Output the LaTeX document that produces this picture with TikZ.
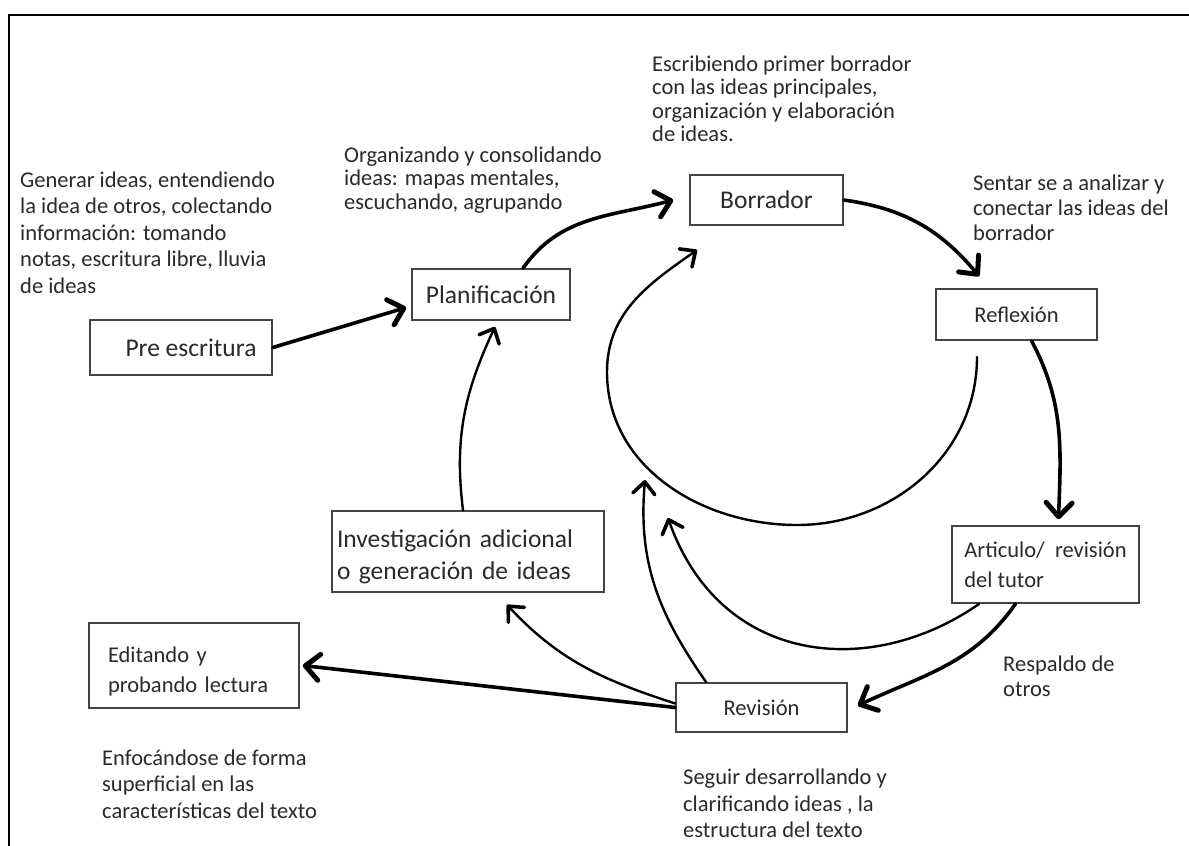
\documentclass[tikz,border=0pt]{standalone}
\usepackage{fontspec}
\setmainfont{Carlito}
\usetikzlibrary{arrows.meta,calc}
\definecolor{txt}{HTML}{2a2a2a}
\definecolor{boxline}{HTML}{444444}
\begin{document}
\begin{tikzpicture}[x=1pt,y=-1pt,
  box/.style={draw=boxline, line width=1.6pt, inner sep=0pt, text=txt},
  big/.style={font=\fontsize{25.5}{30}\selectfont},
  small/.style={font=\fontsize{22.5}{30}\selectfont},
  desc/.style={anchor=north west, inner sep=0pt, align=left, text=txt},
  flow/.style={line width=3.6pt, line cap=round, -{Straight Barb[length=14pt,width=26pt,line width=5pt,round]}},
  loopar/.style={line width=2.4pt, line cap=round, -{Straight Barb[length=12pt,width=22pt,line width=3.6pt,round]}},
]
\fill[white] (0,0) rectangle (1189,846);
\useasboundingbox (0,0) rectangle (1189,846);
% frame
\draw[line width=2pt] (9,846) -- (9,15) -- (1189,15);

% boxes
\node[box,big,minimum width=182pt,minimum height=55pt] (pre) at (181,347.5) {\hspace{20pt}Pre escritura};
\node[box,big,minimum width=158pt,minimum height=51pt] (plan) at (491,294.5) {Planificación};
\node[box,big,minimum width=153pt,minimum height=50pt] (borr) at (766.5,200) {Borrador\hspace{25pt}};
\node[box,small,minimum width=161pt,minimum height=51pt] (refl) at (1016.5,314.5) {Reflexión\hspace{13pt}};
\node[box,small,minimum width=187pt,minimum height=77pt,align=left] (art) at (1045.5,564.5) {Articulo/\ \ revisión\\del tutor};
\node[box,small,minimum width=171pt,minimum height=49pt] (rev) at (761.5,707.5) {Revisión\hspace{49pt}};
\node[box,big,minimum width=272pt,minimum height=81pt,text width=262pt,align=left,font=\fontsize{25.5}{32}\selectfont] (inv) at (468,551.5) {\rule{0pt}{28pt}Investigación adicional\\o generación de ideas};
\node[box,small,minimum width=210pt,minimum height=85pt,text width=172pt,align=left] (edit) at (194,665.5) {\rule{0pt}{27pt}Editando y\\probando lectura};

% descriptions
\node[desc,font=\fontsize{22.5}{26.5}\selectfont] (d1) at (20,171.5) {Generar ideas, entendiendo\\la idea de otros, colectando\\información: tomando\\notas, escritura libre, lluvia\\de ideas};
\node[desc,font=\fontsize{22.5}{23.5}\selectfont] (d2) at (344,146.5) {Organizando y consolidando\\ideas: mapas mentales,\\escuchando, agrupando};
\node[desc,font=\fontsize{22.5}{23.5}\selectfont] (d3) at (652,55.5) {Escribiendo primer borrador\\con las ideas principales,\\organización y elaboración\\de ideas.};
\node[desc,font=\fontsize{22.5}{25}\selectfont] (d4) at (973,174.5) {Sentar se a analizar y\\conectar las ideas del\\borrador};
\node[desc,font=\fontsize{22.5}{25}\selectfont] (d5) at (1003,655.5) {Respaldo de\\otros};
\node[desc,font=\fontsize{22.5}{26.5}\selectfont] (d6) at (102,749.5) {Enfocándose de forma\\superficial en las\\características del texto};
\node[desc,font=\fontsize{22.5}{26.5}\selectfont] (d7) at (683,769) {Seguir desarrollando y\\clarificando ideas , la\\estructura del texto};

% free ends and path guides
\coordinate (tipA) at (645,480);
\coordinate (tipB) at (668,518);
\coordinate (cB1) at (870,680);
\coordinate (cB2) at (720,665);
\coordinate (arcS) at (977,357);
\coordinate (arcB) at (797,525);
\coordinate (arcL) at (607,372);
\coordinate (arcT) at (697,250);

% main flow
\draw[flow] (pre.east) -- ($(plan.west)+(-5,13)$);
\draw[flow] ($(plan.north)+(32,0)$) to[out=55,in=195] ($(borr.west)+(-16,0)$);
\draw[flow] (borr.east) to[out=-8,in=130] ($(refl.north west)+(44,-12)$);
\draw[flow] ($(refl.south)+(15,0)$) to[out=-62,in=88] ($(art.north)+(13,-6)$);
\draw[flow] ($(art.south)+(-30,0)$) to[out=-125,in=25] ($(rev.east)+(10,-2)$);
\draw[flow] (rev.west) -- ($(edit.east)+(3,0)$);

% inner loops
\draw[loopar] ($(inv.north)+(-5,0)$) to[out=97,in=-115] ($(plan.south)+(4,6)$);
\draw[loopar] ($(rev.west)+(0,-4)$) to[out=162,in=-47] ($(inv.south)+(39,12)$);
\draw[loopar] ($(rev.north west)+(31,0)$) to[out=125,in=-95] (tipA);
\draw[loopar] ($(art.south west)+(28,0)$) .. controls (cB1) and (cB2) .. (tipB);
\draw[loopar] (arcS) to[out=-90,in=0] (arcB) to[out=180,in=-90] (arcL) to[out=90,in=215] (arcT);
\end{tikzpicture}
\end{document}
